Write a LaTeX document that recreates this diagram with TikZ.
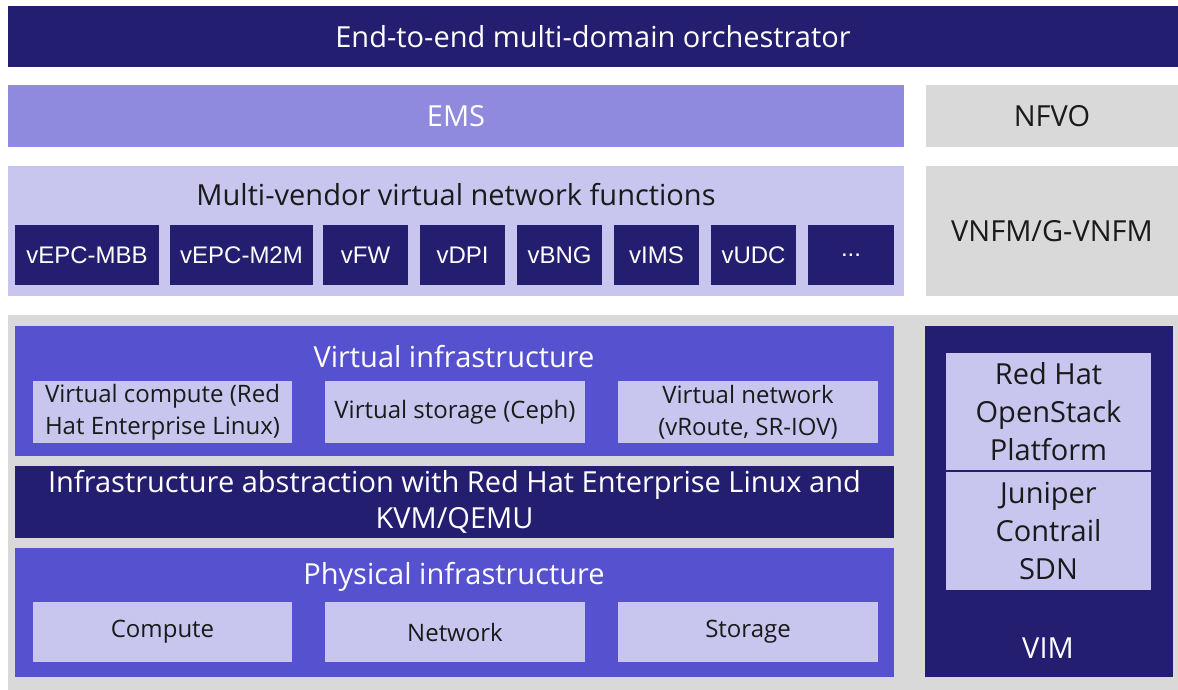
\documentclass[tikz,border=0pt]{standalone}
\usepackage{fontspec}
\setmainfont{Open Sans}
\newfontfamily\arialf{Liberation Sans}
\definecolor{navy}{HTML}{231E70}
\definecolor{emsc}{HTML}{8F8ADE}
\definecolor{lav}{HTML}{C8C6EE}
\definecolor{midb}{HTML}{5651CF}
\definecolor{grayc}{HTML}{D9D9D9}
\definecolor{txt}{HTML}{1A1A1A}
\newcommand\bx[7]{\node[boxs,#6,minimum width={(#4-#2)*1pt},minimum height={(#5-#3)*1pt}] (#1) at (#2,#3) {#7};}
\begin{document}
\begin{tikzpicture}[x=1pt,y=-1pt,
  boxs/.style={rectangle,anchor=north west,inner sep=0pt,outer sep=0pt,align=center},
  dark/.style={fill=navy,text=white},
  light/.style={fill=lav,text=txt},
  mid/.style={fill=midb,text=white},
  grey/.style={fill=grayc,text=txt},
  big/.style={font=\fontsize{29}{36}\selectfont},
  med/.style={font=\arialf\fontsize{24}{32}\selectfont},
  sml/.style={font=\fontsize{24}{32}\selectfont},
  lbl/.style={inner sep=0pt,outer sep=0pt,align=center}]
\fill[white] (0,0) rectangle (1178,690);
% top rows
\bx{orch}{8}{6}{1178}{67}{dark,big}{End-to-end multi-domain orchestrator}
\bx{ems}{8}{85}{904}{147}{fill=emsc,text=white,big}{EMS}
\bx{nfvo}{926}{85}{1178}{147}{grey,big}{NFVO}
\bx{mvnf}{8}{166}{904}{296}{light}{}
\node[lbl,big,text=txt] (mvnft) at (456,195) {Multi-vendor virtual network functions};
\bx{vnfm}{926}{166}{1178}{296}{grey,big}{VNFM/G-VNFM}
\bx{v1}{15}{225}{159}{285}{dark,med}{vEPC-MBB}
\bx{v2}{170}{225}{313}{285}{dark,med}{vEPC-M2M}
\bx{v3}{323}{225}{408}{285}{dark,med}{vFW}
\bx{v4}{420}{225}{505}{285}{dark,med}{vDPI}
\bx{v5}{517}{225}{602}{285}{dark,med}{vBNG}
\bx{v6}{614}{225}{699}{285}{dark,med}{vIMS}
\bx{v7}{711}{225}{796}{285}{dark,med}{vUDC}
\bx{v8}{808}{225}{894}{285}{dark,med}{...}
% lower area
\bx{lower}{8}{315}{1178}{690}{fill=grayc}{}
\bx{vinf}{15}{326}{894}{456}{mid}{}
\node[lbl,big,text=white] (vinft) at (454,357) {Virtual infrastructure};
\bx{vcomp}{33}{381}{292}{443}{light,sml}{Virtual compute (Red\\Hat Enterprise Linux)}
\bx{vstor}{325}{381}{585}{443}{light,sml}{Virtual storage (Ceph)}
\bx{vnet}{618}{381}{878}{443}{light,sml}{Virtual network\\(vRoute, SR-IOV)}
\bx{abs}{15}{466}{894}{538}{dark,big}{Infrastructure abstraction with Red Hat Enterprise Linux and\\KVM/QEMU}
\bx{phys}{15}{548}{894}{677}{mid}{}
\node[lbl,big,text=white] (physt) at (454,577) {Physical infrastructure};
\bx{comp}{33}{602}{292}{662}{light,sml}{Compute}
\bx{netw}{325}{602}{585}{662}{light,sml}{Network}
\bx{stor}{618}{602}{878}{662}{light,sml}{Storage}
% VIM
\bx{vim}{925}{326}{1173}{677}{dark}{}
\bx{rhos}{946}{353}{1151}{471}{light,font=\fontsize{29}{38}\selectfont}{Red Hat\\OpenStack\\Platform}
\bx{jun}{946}{472}{1151}{590}{light,font=\fontsize{29}{38}\selectfont}{Juniper\\Contrail\\SDN}
\draw[navy,line width=1.5pt] (rhos.south west) -- (rhos.south east);
\node[lbl,big,text=white] (vimt) at (1048,648) {VIM};
\end{tikzpicture}
\end{document}
